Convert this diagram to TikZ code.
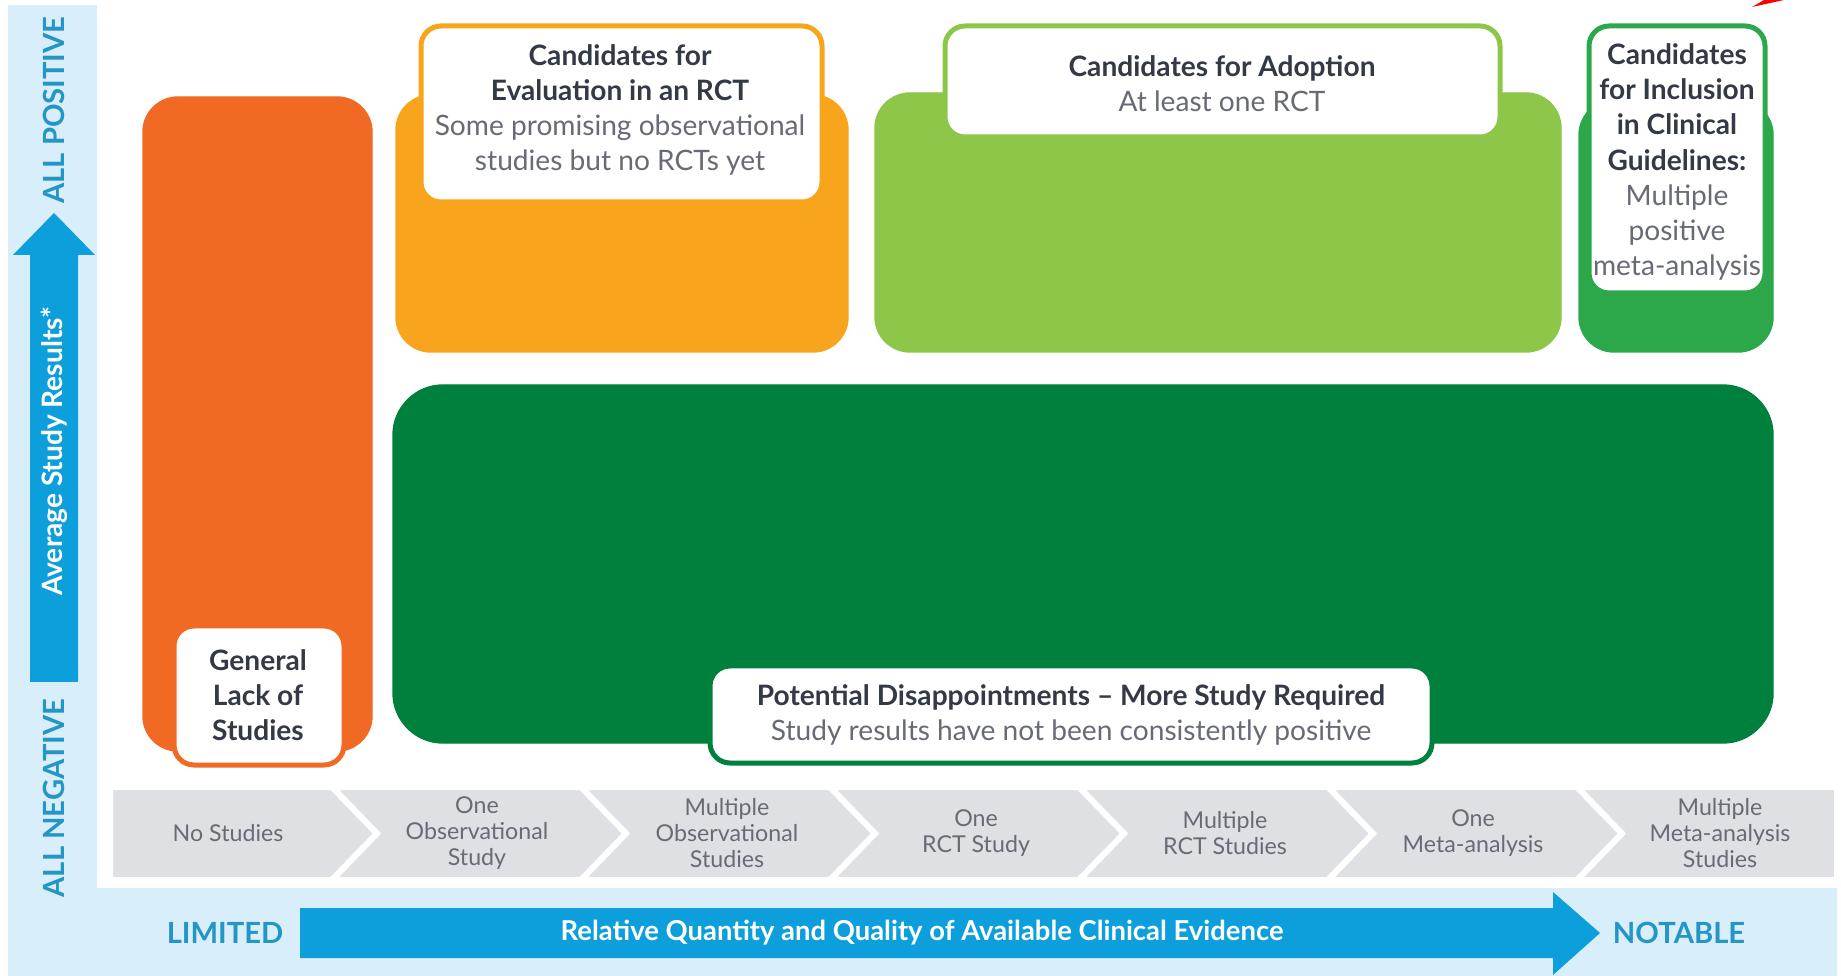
\documentclass[tikz,border=0pt]{standalone}
\usepackage{fontspec}
\setmainfont{Lato}

\definecolor{bandblue}{RGB}{216,238,250}
\definecolor{arrowblue}{RGB}{12,159,220}
\definecolor{endblue}{RGB}{36,150,198}
\definecolor{lackorange}{RGB}{241,106,35}
\definecolor{evalorange}{RGB}{248,164,29}
\definecolor{adoptgreen}{RGB}{141,198,73}
\definecolor{guidegreen}{RGB}{44,168,74}
\definecolor{disgreen}{RGB}{0,128,61}
\definecolor{stepgray}{RGB}{222,224,228}
\definecolor{headgray}{RGB}{52,57,70}
\definecolor{bodygray}{RGB}{104,107,118}

\tikzset{
  card/.style={rounded corners=3.5mm},
  tab/.style={fill=white, line width=0.5mm, rounded corners=2mm},
  tabtext/.style={align=center, text=bodygray, font=\fontsize{8}{10}\selectfont},
  steptext/.style={align=center, text=bodygray, font=\fontsize{6.6}{7.4}\selectfont},
  axistext/.style={text=endblue, font=\bfseries\fontsize{8.3}{10}\selectfont},
  stepbox/.style={fill=stepgray, draw=white, line width=0.6mm},
}
\newcommand{\tabhead}[1]{\textcolor{headgray}{\textbf{#1}}}

\begin{document}
\begin{tikzpicture}[x=0.1mm, y=-0.1mm]
\def\ya{787}
\def\yb{880}
\def\ym{833.5}
\def\xl{110}
\def\xa{332}
\def\xb{581}
\def\xc{830}
\def\xd{1079}
\def\xe{1328}
\def\xf{1577}
\def\xr{1837}
\def\nd{45}

\useasboundingbox (0,0) rectangle (1841,976);

\fill[bandblue] (8,5) rectangle (97,976);
\fill[bandblue] (8,888) rectangle (1837,976);

% vertical axis
\fill[arrowblue] (30,682) -- (30,255) -- (13,255) -- (54,213) -- (95,255) -- (78,255) -- (78,682) -- cycle;
\node[axistext, rotate=90] (pos) at (54,110) {ALL POSITIVE};
\node[axistext, rotate=90] (neg) at (54,798) {ALL NEGATIVE};
\node[rotate=90, text=white, font=\bfseries\fontsize{8}{10}\selectfont] (avg) at (54,451) {Average Study Results*};

% horizontal axis
\fill[arrowblue] (300,908) -- (1553,908) -- (1553,892) -- (1600,933) -- (1553,975) -- (1553,958) -- (300,958) -- cycle;
\node[axistext] (lim) at (225,933) {LIMITED};
\node[axistext] (nota) at (1679,933) {NOTABLE};
\node[text=white, font=\bfseries\fontsize{7.8}{10}\selectfont] (rel) at (922,933) {Relative Quantity and Quality of Available Clinical Evidence};

% evidence steps
\filldraw[stepbox] (\xl,\ya) -- (\xa,\ya) -- (\xa+\nd,\ym) -- (\xa,\yb) -- (\xl,\yb) -- cycle;
\filldraw[stepbox] (\xa,\ya) -- (\xb,\ya) -- (\xb+\nd,\ym) -- (\xb,\yb) -- (\xa,\yb) -- (\xa+\nd,\ym) -- cycle;
\filldraw[stepbox] (\xb,\ya) -- (\xc,\ya) -- (\xc+\nd,\ym) -- (\xc,\yb) -- (\xb,\yb) -- (\xb+\nd,\ym) -- cycle;
\filldraw[stepbox] (\xc,\ya) -- (\xd,\ya) -- (\xd+\nd,\ym) -- (\xd,\yb) -- (\xc,\yb) -- (\xc+\nd,\ym) -- cycle;
\filldraw[stepbox] (\xd,\ya) -- (\xe,\ya) -- (\xe+\nd,\ym) -- (\xe,\yb) -- (\xd,\yb) -- (\xd+\nd,\ym) -- cycle;
\filldraw[stepbox] (\xe,\ya) -- (\xf,\ya) -- (\xf+\nd,\ym) -- (\xf,\yb) -- (\xe,\yb) -- (\xe+\nd,\ym) -- cycle;
\filldraw[stepbox] (\xf,\ya) -- (\xr,\ya) -- (\xr,\yb) -- (\xf,\yb) -- (\xf+\nd,\ym) -- cycle;

\node[steptext] (s1) at (228,\ym) {No Studies};
\node[steptext] (s2) at (477,\ym) {One\\Observational\\Study};
\node[steptext] (s3) at (727,\ym) {Multiple\\Observational\\Studies};
\node[steptext] (s4) at (976,\ym) {One\\RCT Study};
\node[steptext] (s5) at (1225,\ym) {Multiple\\RCT Studies};
\node[steptext] (s6) at (1473,\ym) {One\\Meta-analysis};
\node[steptext] (s7) at (1720,\ym) {Multiple\\Meta-analysis\\Studies};

% regions
\filldraw[card, fill=lackorange, draw=lackorange] (143,97) rectangle (372,751);
\filldraw[card, fill=evalorange, draw=evalorange] (396,95) rectangle (848,352);
\filldraw[card, fill=adoptgreen, draw=adoptgreen] (875,93) rectangle (1561,352);
\filldraw[card, fill=guidegreen, draw=guidegreen] (1579,100) rectangle (1773,352);
\filldraw[card, fill=disgreen, draw=disgreen, rounded corners=5mm] (393,385) rectangle (1773,743);

\filldraw[tab, draw=lackorange] (174,626) rectangle (344,765);
\filldraw[tab, draw=evalorange] (421,26) rectangle (822,202);
\filldraw[tab, draw=adoptgreen] (945,26) rectangle (1500,137);
\filldraw[tab, draw=guidegreen] (1589,26) rectangle (1765,293);
\filldraw[tab, draw=disgreen] (710,666) rectangle (1432,763);

\node[tabtext] (lack) at (258,695) {\tabhead{General}\\\tabhead{Lack of}\\\tabhead{Studies}};
\node[tabtext] (eval) at (620,110) {\tabhead{Candidates for}\\\tabhead{Evaluation in an RCT}\\Some promising observational\\studies but no RCTs yet};
\node[tabtext] (adopt) at (1222,84) {\tabhead{Candidates for Adoption}\\At least one RCT};
\node[tabtext] (guide) at (1677,162) {\tabhead{Candidates}\\\tabhead{for Inclusion}\\\tabhead{in Clinical}\\\tabhead{Guidelines:}\\Multiple\\positive\\meta-analysis};
\node[tabtext] (dis) at (1071,715) {\tabhead{Potential Disappointments -- More Study Required}\\Study results have not been consistently positive};

\fill[red] (1752,7) -- (1784,0) -- (1764,0) -- cycle;
\end{tikzpicture}
\end{document}
